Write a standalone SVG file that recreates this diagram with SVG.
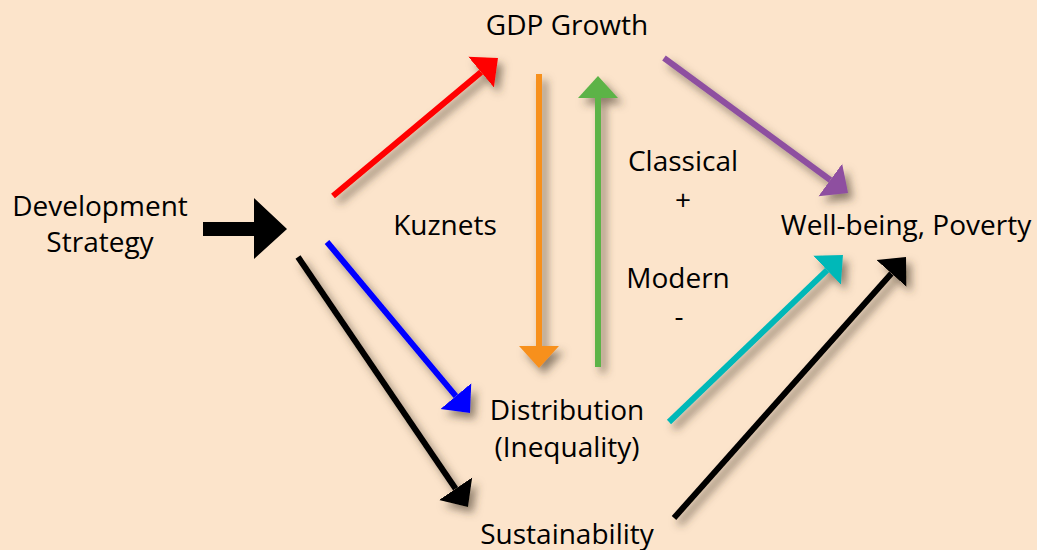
<svg xmlns="http://www.w3.org/2000/svg" width="1037" height="550" viewBox="0 0 1037 550">
<style>
text{font-family:"Open Sans","Noto Sans","Liberation Sans",sans-serif;font-size:28px;fill:#000;text-anchor:middle}
.c{fill:none;stroke-width:6;filter:url(#sh)}
</style>
<defs>
<filter id="sh" filterUnits="userSpaceOnUse" x="0" y="0" width="1037" height="550">
<feDropShadow dx="5" dy="6" stdDeviation="4.5" flood-color="#4a3a2a" flood-opacity="0.6"/>
</filter>
<marker id="mr" markerUnits="userSpaceOnUse" markerWidth="24" markerHeight="42" viewBox="0 -21 24 42" refX="0" refY="0" orient="auto"><path d="M0,-20 L22,0 L0,20 z" fill="#FF0000"/></marker>
<marker id="mo" markerUnits="userSpaceOnUse" markerWidth="24" markerHeight="42" viewBox="0 -21 24 42" refX="0" refY="0" orient="auto"><path d="M0,-20 L22,0 L0,20 z" fill="#F7901E"/></marker>
<marker id="mg" markerUnits="userSpaceOnUse" markerWidth="24" markerHeight="42" viewBox="0 -21 24 42" refX="0" refY="0" orient="auto"><path d="M0,-20 L22,0 L0,20 z" fill="#5BB347"/></marker>
<marker id="mp" markerUnits="userSpaceOnUse" markerWidth="24" markerHeight="42" viewBox="0 -21 24 42" refX="0" refY="0" orient="auto"><path d="M0,-20 L22,0 L0,20 z" fill="#8E4FA0"/></marker>
<marker id="mb" markerUnits="userSpaceOnUse" markerWidth="24" markerHeight="42" viewBox="0 -21 24 42" refX="0" refY="0" orient="auto"><path d="M0,-20 L22,0 L0,20 z" fill="#0000FF"/></marker>
<marker id="mk" markerUnits="userSpaceOnUse" markerWidth="24" markerHeight="42" viewBox="0 -21 24 42" refX="0" refY="0" orient="auto"><path d="M0,-20 L22,0 L0,20 z" fill="#000000"/></marker>
<marker id="mc" markerUnits="userSpaceOnUse" markerWidth="24" markerHeight="42" viewBox="0 -21 24 42" refX="0" refY="0" orient="auto"><path d="M0,-20 L22,0 L0,20 z" fill="#00B8B8"/></marker>
</defs>
<rect width="1037" height="550" fill="#FCE4CB"/>
<g id="connectors">
<polygon points="203,222 254,222 254,198 287,229 254,259 254,236 203,236" fill="#000"/>
<line class="c" x1="333" y1="196" x2="481.1" y2="72.1" stroke="#FF0000" marker-end="url(#mr)"/>
<line class="c" x1="539" y1="74" x2="539" y2="346" stroke="#F7901E" marker-end="url(#mo)"/>
<line class="c" x1="598" y1="367" x2="598" y2="98" stroke="#5BB347" marker-end="url(#mg)"/>
<line class="c" x1="664" y1="58" x2="830.3" y2="180" stroke="#8E4FA0" marker-end="url(#mp)"/>
<line class="c" x1="327" y1="242" x2="455.9" y2="396.1" stroke="#0000FF" marker-end="url(#mb)"/>
<line class="c" x1="298" y1="257" x2="455.6" y2="488.8" stroke="#000000" marker-end="url(#mk)"/>
<line class="c" x1="669" y1="422" x2="827.1" y2="270.2" stroke="#00B8B8" marker-end="url(#mc)"/>
<line class="c" x1="674" y1="518" x2="891.4" y2="273.4" stroke="#000000" marker-end="url(#mk)"/>
</g>
<g id="gdp"><text x="567" y="35">GDP Growth</text></g>
<g id="strategy"><text x="100" y="216">Development</text><text x="100" y="252">Strategy</text></g>
<g id="kuznets"><text x="445" y="235">Kuznets</text></g>
<g id="classical"><text x="683" y="171">Classical</text><text x="683" y="210">+</text><text x="678" y="288">Modern</text><text x="679" y="326">-</text></g>
<g id="wellbeing"><text x="906" y="235">Well-being, Poverty</text></g>
<g id="distribution"><text x="567" y="420">Distribution</text><text x="567" y="457">(Inequality)</text></g>
<g id="sustainability"><text x="567" y="544">Sustainability</text></g>
</svg>
